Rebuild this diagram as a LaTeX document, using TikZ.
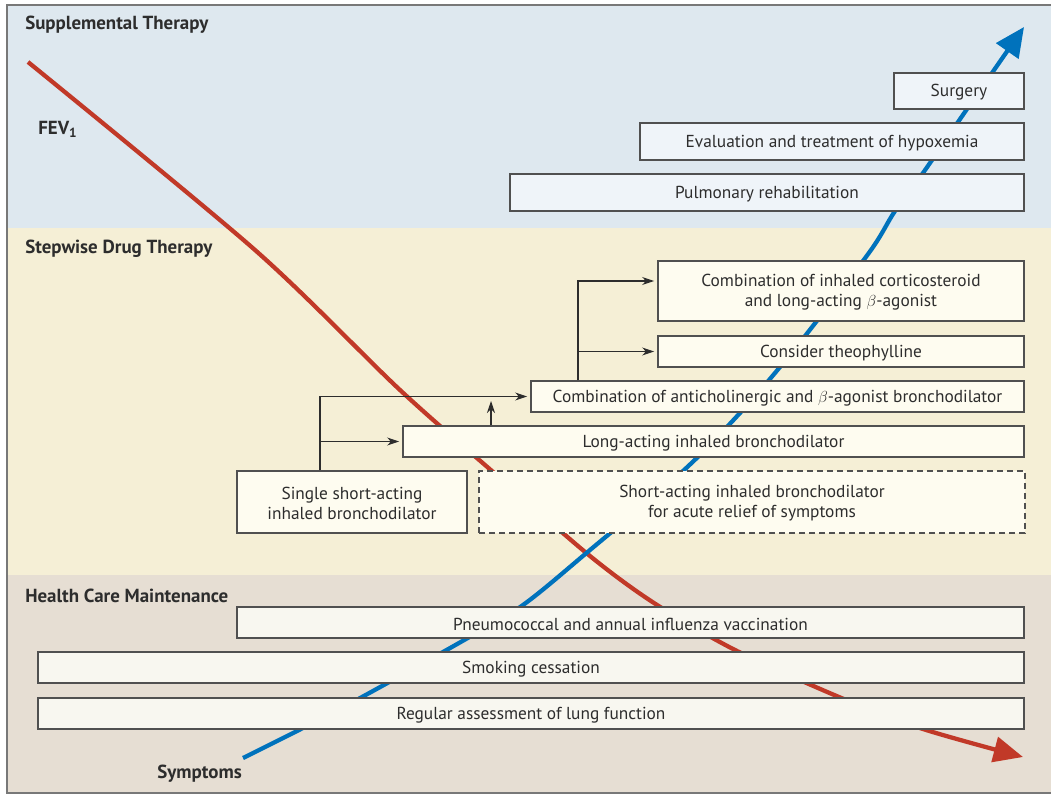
\documentclass[tikz,border=0pt]{standalone}
\usepackage{fontspec}
\setmainfont{PT Sans}
\usetikzlibrary{arrows.meta,fit,calc}
\definecolor{bandblue}{RGB}{222,232,239}
\definecolor{bandyellow}{RGB}{245,239,214}
\definecolor{bandbeige}{RGB}{230,222,211}
\definecolor{boxblue}{RGB}{239,244,249}
\definecolor{boxyellow}{RGB}{254,252,240}
\definecolor{boxbeige}{RGB}{248,247,240}
\definecolor{framegray}{RGB}{120,120,120}
\definecolor{boxline}{RGB}{80,80,80}
\definecolor{fevred}{RGB}{193,57,40}
\definecolor{symblue}{RGB}{0,114,188}
\definecolor{txt}{RGB}{45,45,45}
\tikzset{
  bx/.style={draw=boxline, line width=0.9pt, inner sep=0pt},
  bxb/.style={bx, fill=boxblue},
  bxy/.style={bx, fill=boxyellow},
  bxe/.style={bx, fill=boxbeige},
  bxd/.style={bx, fill=boxyellow, dashed, dash pattern=on 4.5pt off 3pt},
  lbl/.style={inner sep=0pt, align=center, text=txt, yshift=-1.2pt, font=\fontsize{13pt}{15pt}\selectfont},
  sect/.style={anchor=west, inner sep=0pt, text=txt, font=\fontsize{14.2pt}{16pt}\selectfont\bfseries},
  conn/.style={draw=txt, line width=0.8pt, line join=miter, -{Stealth[length=9pt,width=6pt]}},
  bigred/.style={draw=fevred, line width=3.2pt, line cap=butt, -{Triangle[length=22pt,width=19pt]}},
  bigblue/.style={draw=symblue, line width=3.2pt, line cap=butt, -{Triangle[length=22pt,width=20pt]}},
}
\begin{document}
\begin{tikzpicture}[x=0.75pt,y=-0.75pt]
\useasboundingbox (0,0) rectangle (1051,796);
\fill[white] (0,0) rectangle (1051,796);
\fill[bandblue] (7,5) rectangle (1051,228);
\fill[bandyellow] (7,228) rectangle (1051,575);
\fill[bandbeige] (7,575) rectangle (1051,793);
\draw[framegray, line width=1.5pt] (1052,5) -- (7,5) -- (7,793) -- (1052,793);

% section labels
\node[sect] (lsup) at (25,25) {Supplemental Therapy};
\node[sect] (lstep) at (25,249) {Stepwise Drug Therapy};
\node[sect] (lhcm) at (25,596) {Health Care Maintenance};
\node[sect] (lfev) at (38,129) {FEV\textsubscript{1}};
\node[sect] (lsym) at (157,774) {Symptoms};

% curves
\draw[bigred] plot[smooth, tension=0.5] coordinates {(28,62) (255,250) (400,390) (500,478) (590,556) (654,603) (735,650) (839,697) (923,729) (1023,757)};
\draw[bigblue] plot[smooth, tension=0.55] coordinates {(243,758) (299,730) (362,697) (466,639) (523,605) (590,550) (683,471) (740,413) (780,367) (816,322) (871,250) (895,211) (923,173) (967,109) (1024,27)};

% supplemental therapy
\node[bxb, fit={(894,73) (1024,109)}] (surg) {};
\node[lbl] (surgt) at (surg.center) {Surgery};
\node[bxb, fit={(640,123) (1024,160)}] (hypox) {};
\node[lbl] (hypoxt) at (hypox.center) {Evaluation and treatment of hypoxemia};
\node[bxb, fit={(510,174) (1024,211)}] (pulm) {};
\node[lbl] (pulmt) at (pulm.center) {Pulmonary rehabilitation};

% stepwise drug therapy
\node[bxy, fit={(658,261) (1024,321)}] (ics) {};
\node[lbl] (icst) at (ics.center) {Combination of inhaled corticosteroid\\and long-acting $\beta$-agonist};
\node[bxy, fit={(658,336) (1024,367)}] (theo) {};
\node[lbl] (theot) at (theo.center) {Consider theophylline};
\node[bxy, fit={(531,381) (1024,412)}] (comb) {};
\node[lbl] (combt) at (comb.center) {Combination of anticholinergic and $\beta$-agonist bronchodilator};
\node[bxy, fit={(403,426) (1024,457)}] (long) {};
\node[lbl] (longt) at (long.center) {Long-acting inhaled bronchodilator};
\node[bxy, fit={(237,471) (467,533)}] (single) {};
\node[lbl] (singlet) at (single.center) {Single short-acting\\inhaled bronchodilator};
\node[bxd, fit={(479,471) (1025,533)}] (short) {};
\node[lbl] (shortt) at (short.center) {Short-acting inhaled bronchodilator\\for acute relief of symptoms};

% health care maintenance
\node[bxe, fit={(237,607) (1024,638)}] (pneu) {};
\node[lbl] (pneut) at (pneu.center) {Pneumococcal and annual influenza vaccination};
\node[bxe, fit={(38,652) (1024,683)}] (smok) {};
\node[lbl] (smokt) at (smok.center) {Smoking cessation};
\node[bxe, fit={(38,698) (1024,729)}] (lung) {};
\node[lbl] (lungt) at (lung.center) {Regular assessment of lung function};

% connectors
\coordinate (v1) at (320,0);
\coordinate (v2) at (491,401);
\coordinate (v3) at (578,0);
\coordinate (a1) at (0,281);
\draw[conn] (single.north -| v1) |- ([xshift=-2.5pt]comb.west);
\draw[conn] (v1 |- long.west) -- ([xshift=-2.5pt]long.west);
\draw[conn] (long.north -| v2) -- (v2);
\draw[conn] (comb.north -| v3) |- ([xshift=-2.5pt]ics.west |- a1);
\draw[conn] (v3 |- theo.west) -- ([xshift=-2.5pt]theo.west);
\end{tikzpicture}
\end{document}
